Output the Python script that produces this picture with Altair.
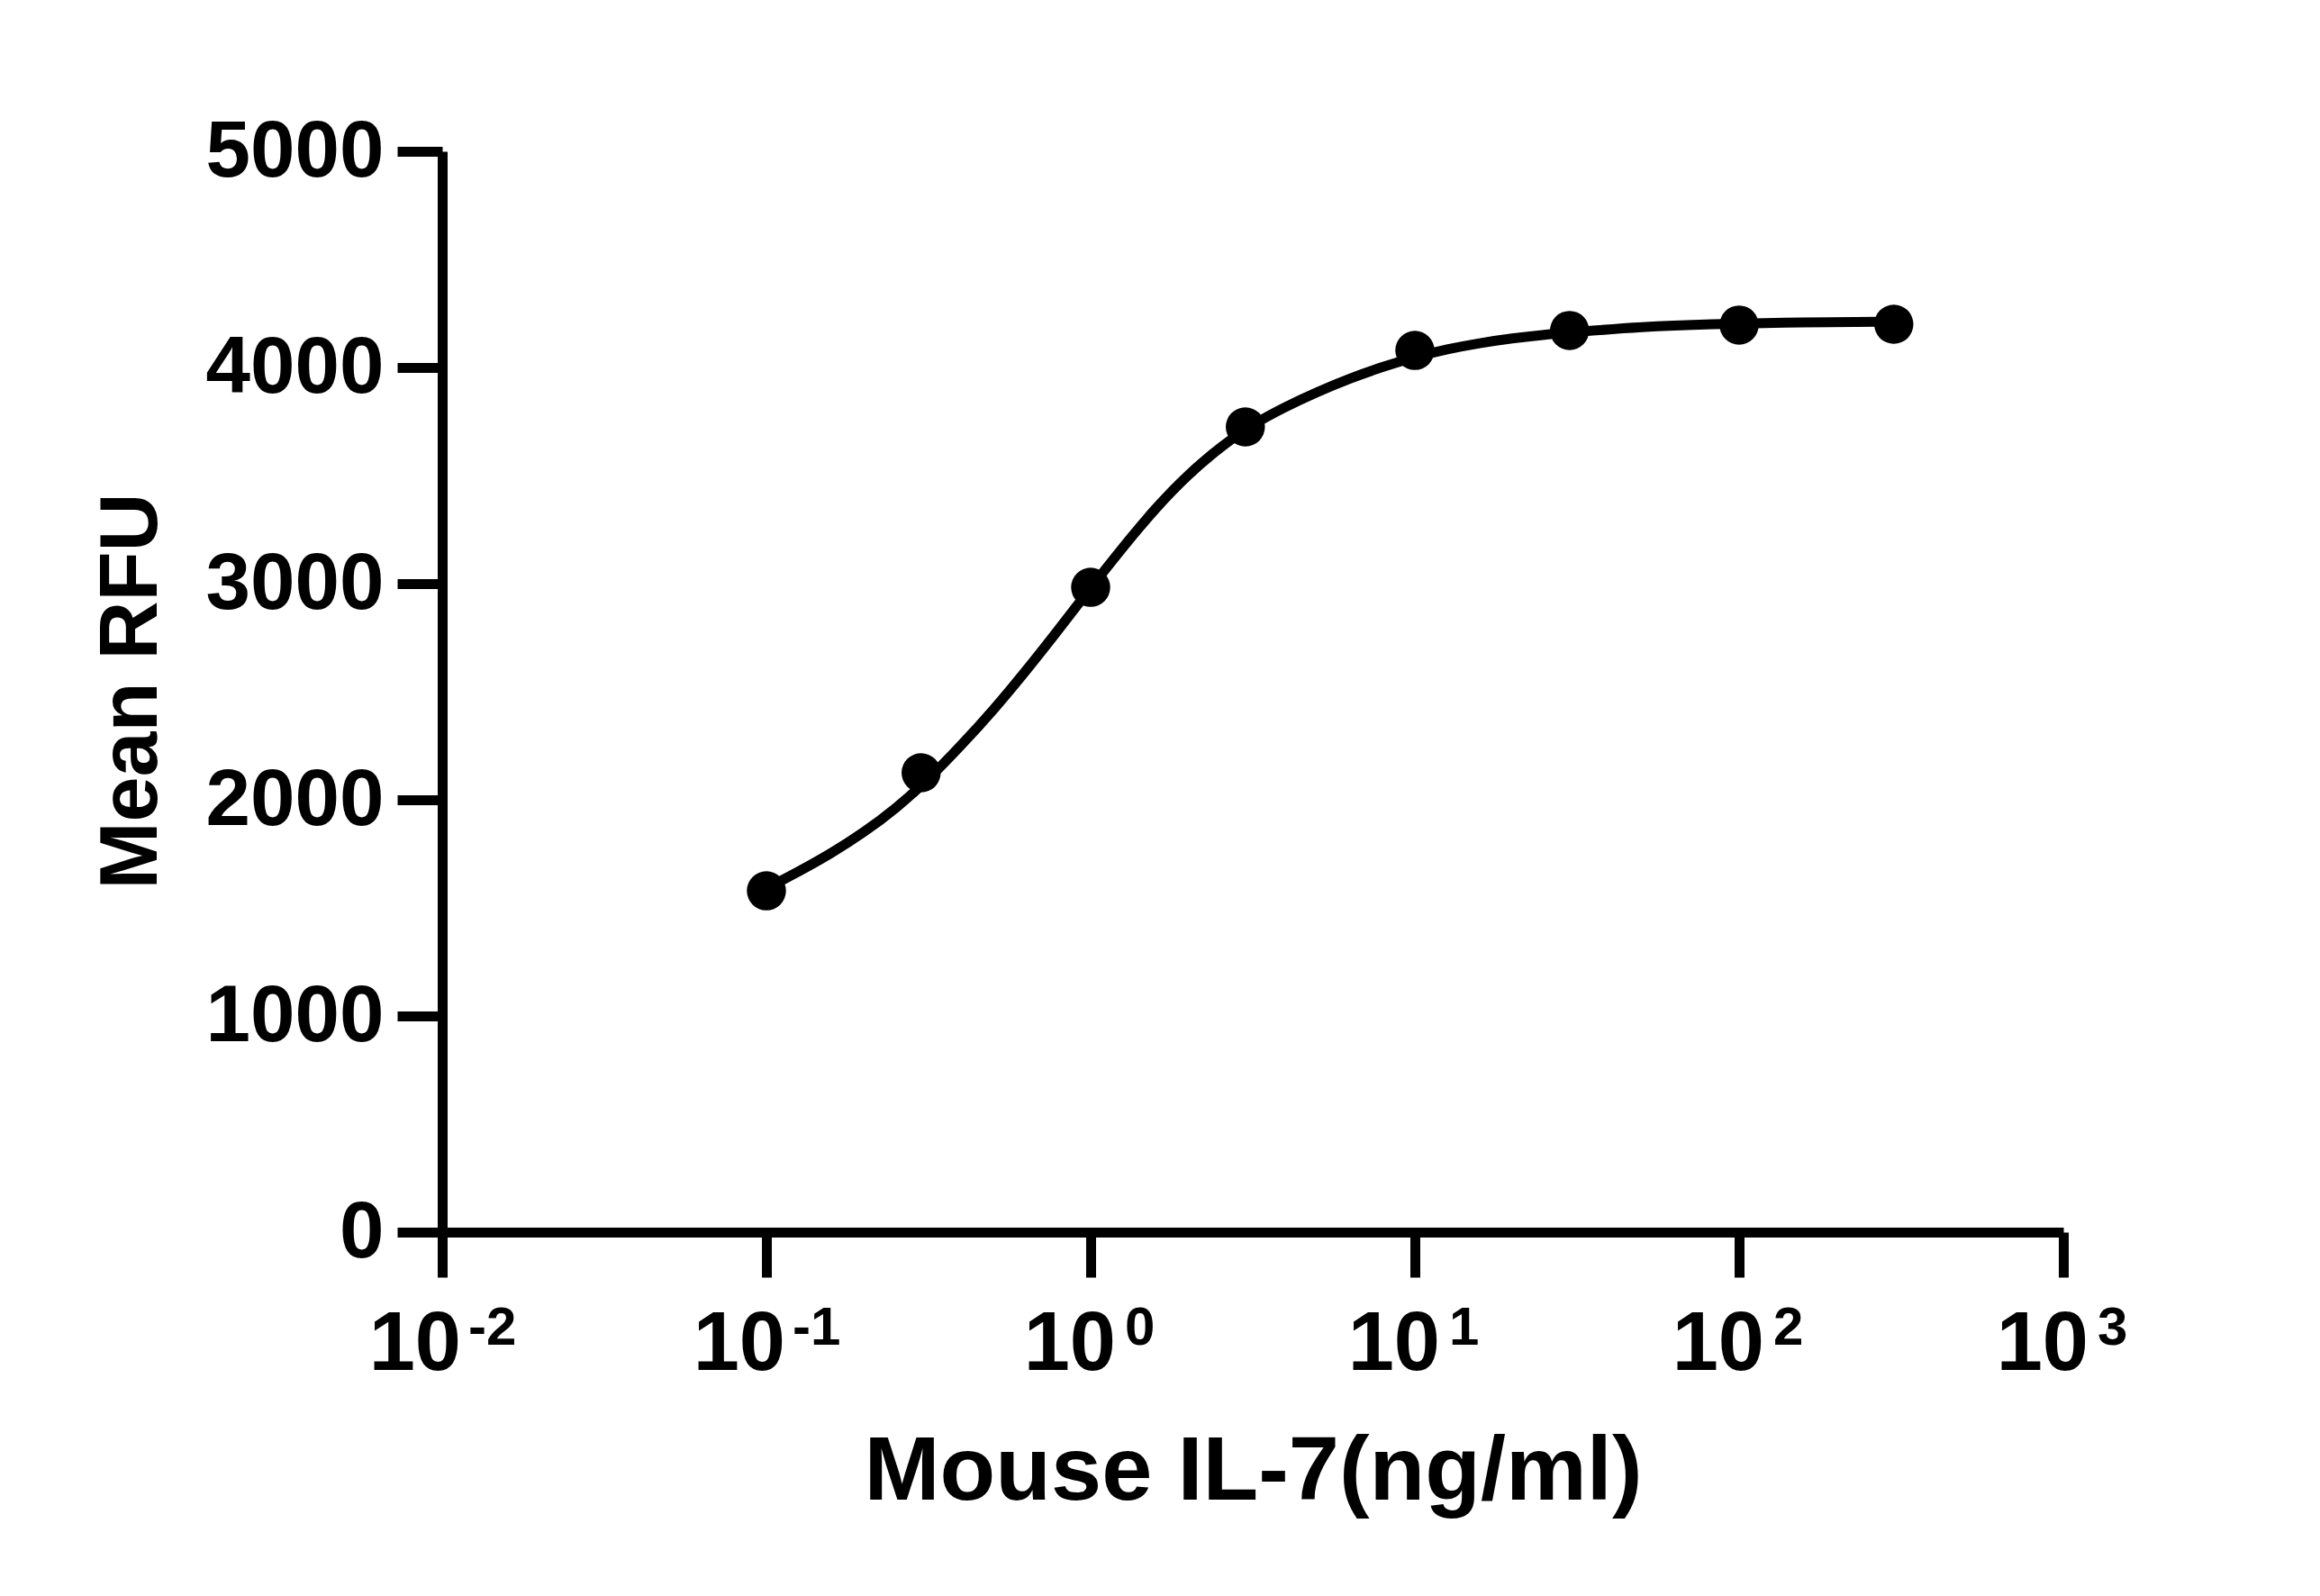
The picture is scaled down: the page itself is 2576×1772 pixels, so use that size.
import altair as alt
import pandas as pd

# Measured points (concentration in ng/ml, Mean RFU)
conc = [0.1, 0.3, 1, 3, 10, 30, 100, 300]
rfu = [1579, 2125, 2983, 3725, 4079, 4171, 4196, 4200]

# Fitted curve
curve_conc = [0.1, 0.1259, 0.1585, 0.1995, 0.2512, 0.3162, 0.3981, 0.5012, 0.631, 0.7943,
              1, 1.259, 1.585, 1.995, 2.512, 3.162, 3.981, 5.012, 6.31, 7.943,
              10, 12.59, 15.85, 19.95, 25.12, 31.62, 50.12, 79.43, 158.5, 300]
curve_rfu = [1590, 1668, 1752, 1848, 1960, 2095, 2250, 2415, 2595, 2785,
             2980, 3170, 3350, 3505, 3632, 3738, 3818, 3888, 3950, 4003,
             4048, 4085, 4113, 4135, 4152, 4165, 4188, 4200, 4210, 4212]

# Axis ticks
x_ticks = [0.01, 0.1, 1, 10, 100, 1000]
x_base = ["10", "10", "10", "10", "10", "10"]
x_exps = ["-2", "-1", "0", "1", "2", "3"]
y_ticks = [0, 1000, 2000, 3000, 4000, 5000]

FONT = "Liberation Sans"

pts = pd.DataFrame({"conc": conc, "rfu": rfu})
curve = pd.DataFrame({"conc": curve_conc, "rfu": curve_rfu})
ticks = pd.DataFrame({"conc": x_ticks, "base": x_base, "exp": x_exps})
ticks["neg"] = ticks["exp"].str.startswith("-")

xscale = alt.Scale(type="log", domain=[0.01, 1000], nice=False)
yscale = alt.Scale(domain=[0, 5000], nice=False, zero=True)

xaxis = alt.Axis(
    values=x_ticks, labels=False, grid=False,
    tickSize=50, tickWidth=11, tickColor="black",
    domainWidth=11, domainColor="black",
    title="Mouse IL-7(ng/ml)", titleFont=FONT, titleFontSize=101,
    titleFontWeight="bold", titleColor="black",
    titleX=900, titleY=296, titleAlign="center", titleBaseline="alphabetic",
)
yaxis = alt.Axis(
    values=y_ticks, grid=False, format="d",
    tickSize=50, tickWidth=11, tickColor="black",
    domainWidth=11, domainColor="black",
    labelFont=FONT, labelFontSize=89, labelFontWeight="bold", labelColor="black",
    labelPadding=15, labelLimit=0,
    title="Mean RFU", titleFont=FONT, titleFontSize=90, titleFontWeight="bold",
    titleColor="black", titleAngle=270,
    titleX=-318, titleY=599, titleAlign="center", titleBaseline="alphabetic",
)

X = alt.X("conc:Q", scale=xscale, axis=xaxis)
Y = alt.Y("rfu:Q", scale=yscale, axis=yaxis)

line = alt.Chart(curve).mark_line(
    color="black", strokeWidth=11, interpolate="basis"
).encode(x=X, y=Y)

points = alt.Chart(pts).mark_point(
    shape="circle", filled=True, color="black", opacity=1, size=1890
).encode(x=X, y=Y)

def base_layer(neg, dx):
    return alt.Chart(ticks).transform_filter(
        alt.datum.neg if neg else ~alt.datum.neg
    ).mark_text(
        align="right", baseline="alphabetic", dx=dx, dy=153,
        font=FONT, fontSize=92, fontWeight="bold", color="black"
    ).encode(x=X, y=alt.datum(0), text="base:N")

def exp_layer(neg, dx):
    return alt.Chart(ticks).transform_filter(
        alt.datum.neg if neg else ~alt.datum.neg
    ).mark_text(
        align="left", baseline="alphabetic", dx=dx, dy=125,
        font=FONT, fontSize=60, fontWeight="bold", color="black"
    ).encode(x=X, y=alt.datum(0), text="exp:N")

chart = alt.layer(
    line, points,
    base_layer(True, 21), exp_layer(True, 29),
    base_layer(False, 28), exp_layer(False, 38),
).properties(
    width=1800, height=1200,
    autosize=alt.AutoSizeParams(type="none"),
    padding={"left": 491, "top": 168, "right": 285, "bottom": 404},
    background="white",
).configure_view(stroke=None)

chart.save("out.html", embed_options={"renderer": "svg", "actions": False})
